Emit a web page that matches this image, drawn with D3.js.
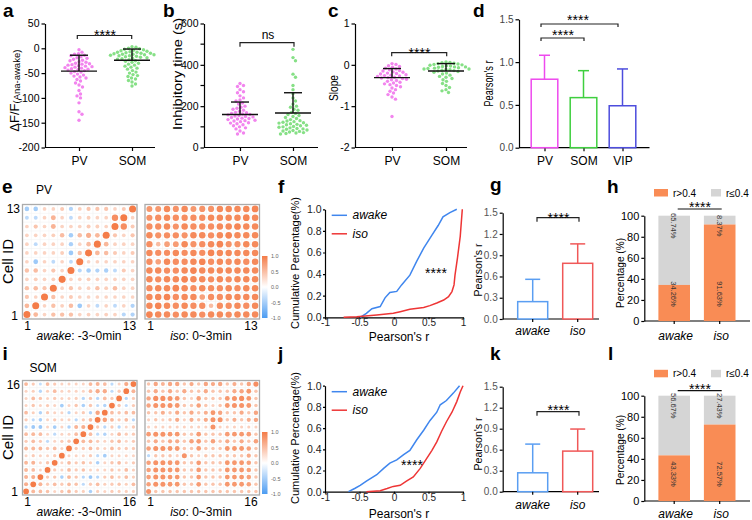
<!DOCTYPE html>
<html><head><meta charset="utf-8">
<script src="https://cdn.jsdelivr.net/npm/d3@7"></script>
<style>body{margin:0;background:#fff}</style>
</head><body>
<script>
// ================= DATA =================
const groupsAB = ["PV","SOM"];
const dffTicks = [50,0,-50,-100,-150,-200];
const dffPV = [-3,-8,-11,-12,-14,-15,-17,-19,-20,-22,-24,-25,-27,-28,-30,-31,-32,-33,-34,-35,-36,-37,-38,-39,-40,-41,-42,-43,-44,-45,-47,-48,-50,-52,-54,-56,-58,-60,-63,-66,-70,-74,-78,-85,-92,-96,-100,-110,-128,-133,-145];
const dffSOM = [3,2,0,-1,-2,-3,-4,-5,-6,-7,-8,-8,-9,-10,-10,-11,-12,-12,-13,-13,-14,-15,-15,-16,-17,-18,-19,-20,-21,-22,-23,-25,-26,-28,-30,-32,-34,-36,-38,-40,-42,-45,-48,-50,-53,-55,-57,-60,-62,-65,-68,-72,-76];
const dffMean = [-46,-24];
const dffSD = [32,22.5];

const inhTicks = [0,200,400,600];
const inhMinor = [100,300,500];
const inhPV = [310,300,295,280,270,265,250,240,230,225,215,210,200,195,190,185,180,175,170,168,165,162,160,158,155,152,150,148,145,142,140,138,135,132,130,128,125,120,118,115,110,105,100,95,90,80,70,65];
const inhSOM = [475,435,420,355,340,300,280,260,240,225,210,200,195,185,180,170,165,160,155,150,145,140,135,130,128,125,122,120,118,115,112,110,108,105,102,100,98,95,92,90,88,85,82,80,78,75,72,70,68,65];
const inhMean = [160,167];
const inhSD = [60,98];

const slopeTicks = [1,0,-1,-2];
const slopePV = [0.03,0.01,-0.02,-0.04,-0.06,-0.08,-0.1,-0.12,-0.14,-0.15,-0.17,-0.18,-0.2,-0.21,-0.22,-0.24,-0.25,-0.26,-0.27,-0.28,-0.3,-0.31,-0.32,-0.33,-0.35,-0.36,-0.38,-0.4,-0.42,-0.44,-0.46,-0.48,-0.5,-0.53,-0.56,-0.6,-0.64,-0.68,-0.72,-0.78,-0.83,-1.25];
const slopeSOM = [0.07,0.06,0.05,0.04,0.03,0.02,0.01,0.0,-0.01,-0.02,-0.03,-0.04,-0.05,-0.05,-0.06,-0.07,-0.08,-0.09,-0.1,-0.1,-0.11,-0.12,-0.13,-0.14,-0.15,-0.16,-0.18,-0.2,-0.22,-0.25,-0.28,-0.3,-0.33,-0.36,-0.4,-0.45,-0.5,-0.55,-0.6,-0.63,-0.67];
const slopeMean = [-0.31,-0.15];
const slopeSD = [0.22,0.18];

const corrGroups = ["PV","SOM","VIP"];
const corrTicks = [0,0.5,1.0,1.5];
const corrMean = [0.80,0.585,0.49];
const corrSD = [0.28,0.315,0.43];

const stateCats = ["awake","iso"];
const pearTicks = [0,0.3,0.6,0.9,1.2,1.5];
const pvPearMean = [0.245,0.786];
const pvPearSD = [0.315,0.274];
const somPearMean = [0.27,0.58];
const somPearSD = [0.41,0.315];

const pctTicks = [0,20,40,60,80,100];
const pvHigh = [34.26,91.63];
const pvLow = [65.74,8.37];
const somHigh = [43.33,72.57];
const somLow = [56.67,27.43];

const cdfTicksY = [0,0.2,0.4,0.6,0.8,1.0];
const cdfTicksX = [-1,-0.5,0,0.5,1];
const pvAwakeCdf = [[-0.49,0],[-0.4,0.037],[-0.32,0.08],[-0.2,0.1],[-0.13,0.18],[-0.06,0.23],[0.04,0.24],[0.11,0.3],[0.23,0.39],[0.33,0.52],[0.43,0.64],[0.55,0.76],[0.64,0.85],[0.71,0.93],[0.81,0.97],[0.91,1.0]];
const pvIsoCdf = [[-0.73,0],[-0.54,0.006],[-0.25,0.022],[-0.01,0.037],[0.09,0.052],[0.23,0.074],[0.43,0.09],[0.52,0.108],[0.62,0.133],[0.72,0.16],[0.79,0.191],[0.84,0.238],[0.87,0.30],[0.884,0.39],[0.92,0.55],[0.96,0.75],[0.99,1.0]];
const somAwakeCdf = [[-0.66,0],[-0.57,0.03],[-0.49,0.06],[-0.4,0.1],[-0.25,0.16],[-0.15,0.22],[-0.06,0.27],[0.04,0.3],[0.14,0.35],[0.23,0.39],[0.33,0.49],[0.43,0.58],[0.52,0.67],[0.62,0.75],[0.67,0.82],[0.76,0.86],[0.86,0.93],[0.95,1.0]];
const somIsoCdf = [[-0.4,0],[-0.2,0.01],[-0.1,0.03],[-0.01,0.05],[0.09,0.06],[0.18,0.1],[0.28,0.14],[0.38,0.22],[0.47,0.31],[0.55,0.39],[0.62,0.47],[0.69,0.57],[0.76,0.66],[0.84,0.75],[0.91,0.85],[0.96,0.94],[1.0,1.0]];

const cbarTicks = [1.0,0.5,0.0,-0.5,-1.0];

// correlation matrices: row 1 (bottom) ... row n (top)
const pvAwake = [
 [1,0.35,0.05,0.25,0.25,0.25,0.05,0.08,0.05,0.08,0.05,-0.15,-0.2],
 [0.35,1,0.05,0.25,0.08,0.3,-0.35,0.05,-0.1,0.05,-0.1,0.05,-0.2],
 [0.2,0.05,1,0.25,0.05,0.15,0.05,0.05,0.05,0.05,0.05,0.05,0.05],
 [0.25,0.3,0.2,1,0.05,0.2,0.05,0.05,0.25,0.1,0.3,0.05,0.05],
 [0.05,0.1,0.05,0.1,1,0.05,0.05,0.1,0.05,0.05,0.05,0.05,0.05],
 [0.25,0.3,0.05,0.2,0.05,1,-0.15,-0.3,-0.2,-0.25,-0.1,0.15,0.05],
 [0.05,-0.35,0.05,-0.1,0.05,-0.1,1,0.05,0.05,0.05,0.05,0.05,0.05],
 [0.05,0.05,0.05,0.05,0.1,-0.35,0.25,1,0.35,0.3,0.15,0.05,0.15],
 [0.05,-0.1,0.05,0.05,0.05,-0.25,0.05,0.3,1,0.35,0.05,0.05,0.05],
 [0.05,0.05,0.05,0.1,0.3,-0.3,0.3,0.45,0.35,1,0.2,0.05,0.2],
 [0.05,0.2,0.05,0.4,0.05,0.05,0.05,0.15,0.1,0.05,1,0.8,0.15],
 [-0.1,-0.1,0.05,0.4,0.05,-0.1,0.05,0.1,0.05,0.05,0.8,1,0.05],
 [-0.3,-0.3,0.05,0.05,0.15,-0.2,0.1,0.2,0.2,0.2,0.05,0.15,1]
];
const pvIso = [
 [0.9,0.85,0.85,0.8,0.85,0.85,0.8,0.85,0.85,0.8,0.85,0.85,0.85],
 [0.85,0.9,0.85,0.8,0.85,0.8,0.8,0.3,0.8,0.8,0.85,0.8,0.85],
 [0.85,0.85,0.9,0.8,0.85,0.85,0.6,0.8,0.8,0.85,0.85,0.85,0.85],
 [0.8,0.85,0.85,0.9,0.85,0.8,0.85,0.8,0.8,0.85,0.8,0.85,0.85],
 [0.85,0.8,0.85,0.85,0.9,0.85,0.85,0.8,0.85,0.8,0.85,0.85,0.85],
 [0.85,0.85,0.8,0.8,0.85,0.9,0.85,0.85,0.85,0.85,0.85,0.85,0.85],
 [0.8,0.6,0.85,0.8,0.8,0.85,0.9,0.8,0.85,0.8,0.85,0.8,0.85],
 [0.85,0.8,0.8,0.85,0.8,0.85,0.8,0.9,0.85,0.85,0.85,0.85,0.85],
 [0.8,0.3,0.6,0.65,0.85,0.75,0.8,0.85,0.9,0.75,0.75,0.85,0.85],
 [0.85,0.75,0.8,0.8,0.75,0.85,0.85,0.8,0.85,0.9,0.85,0.85,0.85],
 [0.8,0.8,0.85,0.75,0.85,0.8,0.8,0.8,0.85,0.85,0.9,0.85,0.85],
 [0.75,0.8,0.85,0.8,0.8,0.8,0.8,0.85,0.85,0.85,0.85,0.9,0.85],
 [0.7,0.7,0.85,0.75,0.85,0.7,0.75,0.75,0.85,0.85,0.85,0.85,0.9]
];
const somAwake = [
 [1,0.35,0.3,0.25,0.05,0.2,0.3,0.15,0.1,-0.25,0.1,0.05,0.15,0.1,0.1,0.1],
 [0.45,1,0.4,0.15,0.3,0.15,0.3,0.25,-0.1,0.15,0.3,0.1,0.15,0.2,0.1,0.3],
 [0.4,0.45,1,0.15,0.2,-0.25,0.35,0.2,-0.15,-0.35,-0.15,0.15,0.3,0.1,0.3,0.1],
 [0.35,0.3,0.05,1,0.15,0.05,0.3,0.15,0.25,0.05,0.05,0.05,0.2,0.1,0.3,0.1],
 [0.35,0.4,0.05,0.2,1,0.05,0.3,0.15,0.25,0.1,-0.25,0.05,0.2,0.3,0.05,0.15],
 [0.05,0.15,0.05,0.05,0.15,1,0.05,0.05,0.05,0.15,-0.1,-0.3,0.05,0.05,0.05,0.05],
 [0.35,0.35,0.35,0.2,0.3,0.05,1,0.15,0.15,0.3,0.15,0.05,0.3,0.15,0.15,0.15],
 [0.15,0.3,0.15,-0.1,0.05,0.15,0.2,1,0.35,0.35,0.15,0.05,0.2,0.3,0.05,0.15],
 [0.3,0.35,0.3,0.05,-0.1,0.05,0.05,0.3,1,0.3,-0.1,-0.2,0.05,0.3,0.15,0.15],
 [-0.15,-0.35,-0.35,0.05,-0.3,0.05,-0.2,0.4,0.45,1,0.15,-0.15,0.15,-0.15,0.05,0.15],
 [0.15,-0.1,-0.25,0.05,0.15,0.05,0.05,-0.15,0.15,0.3,1,0.6,0.35,0.15,0.3,-0.15],
 [0.3,0.1,-0.2,0.15,0.05,0.05,-0.15,0.05,0.15,-0.2,0.55,1,0.3,0.2,0.3,0.3],
 [0.05,0.2,0.05,0.15,0.05,-0.3,0.05,0.2,-0.25,0.2,-0.1,-0.2,1,0.2,-0.1,0.15],
 [0.05,0.3,0.2,0.05,0.15,0.05,0.05,0.1,-0.15,0.2,-0.15,0.3,0.15,1,-0.15,0.15],
 [0.05,0.1,-0.15,0.1,0.3,0.05,0.05,0.05,0.05,0.3,0.5,0.5,-0.1,0.15,1,0.4],
 [0.35,0.15,-0.05,0.3,0.15,0.05,0.05,0.05,0.05,0.35,0.4,0.3,-0.1,0.05,0.5,1]
];
const somIso = [
 [0.75,0.22,0.22,0.22,0.22,0.22,0.22,0.22,0.22,0.22,0.22,0.22,0.22,0.22,0.22,0.22],
 [0.6,0.75,0.75,0.7,0.7,0.22,0.22,0.65,0.22,0.22,0.22,0.7,0.7,0.7,0.6,0.22],
 [0.6,0.75,0.75,0.7,0.7,0.22,0.22,0.65,0.22,0.22,0.22,0.7,0.7,0.7,0.6,0.22],
 [0.6,0.75,0.75,0.7,0.7,0.22,0.22,0.65,0.22,0.22,0.22,0.7,0.7,0.7,0.6,0.22],
 [0.6,0.75,0.75,0.7,0.7,0.22,0.22,0.65,0.22,0.22,0.22,0.7,0.7,0.7,0.6,0.22],
 [-0.12,0.22,0.22,0.22,0.08,0.75,0.22,0.08,0.22,0.22,0.22,0.22,0.22,0.22,0.5,0.22],
 [0.6,0.75,0.75,0.7,0.7,0.22,0.22,0.65,0.22,0.22,0.22,0.7,0.7,0.7,0.6,0.22],
 [0.22,0.5,0.22,0.5,0.5,0.22,0.6,0.65,0.22,0.6,0.22,0.5,0.22,0.5,0.22,0.6],
 [0.65,0.75,0.75,0.7,0.7,0.22,0.22,0.65,0.22,0.22,0.22,0.65,0.7,0.7,0.65,0.22],
 [0.08,0.08,0.08,0.08,0.08,0.08,0.08,0.08,0.08,0.75,0.08,0.08,0.08,0.08,0.08,0.08],
 [0.08,0.22,0.08,0.22,0.5,0.08,0.45,0.22,0.5,0.75,0.75,0.22,0.45,0.22,0.45,0.55],
 [0.22,0.22,0.45,0.22,0.5,0.22,0.5,0.22,0.45,0.7,0.55,0.22,0.22,0.5,0.22,0.55],
 [0.55,0.75,0.75,0.75,0.7,0.22,0.22,0.6,0.22,0.08,0.22,0.7,0.75,0.75,0.7,0.22],
 [0.55,0.8,0.8,0.75,0.7,0.22,0.08,0.6,0.22,0.22,0.22,0.7,0.75,0.8,0.7,0.22],
 [0.22,0.5,0.22,0.5,0.22,0.5,0.22,0.22,0.5,0.22,0.22,0.22,0.5,0.55,0.7,0.22],
 [0.22,0.55,0.4,0.55,0.55,0.22,0.5,0.22,0.55,0.5,0.55,0.22,0.45,0.22,0.55,0.8]
];

// ================= DRAWING =================
const FONT = "'Liberation Sans', Arial, Helvetica, sans-serif";
const svg = d3.select("body").append("svg").attr("width",752).attr("height",520)
  .style("font-family",FONT);

const C = {pv:"#f285ee", som:"#86e086", pvBar:"#ee4aee", somBar:"#3fcf3f", vipBar:"#4d4ddd",
  blueLine:"#3f86ee", redLine:"#ee3535", blueBar:"#5a9ef2", redBar:"#f05858",
  orange:"#f98c55", grey:"#d5d5d5", cOr:"#f47c48", cBl:"#4c9cf2"};

function txt(x,y,s,o={}){
  const t = svg.append("text").attr("x",x).attr("y",y).text(s)
    .attr("font-size",o.size||10).attr("text-anchor",o.anchor||"start")
    .attr("fill",o.fill||"#000");
  if(o.weight) t.attr("font-weight",o.weight);
  if(o.style) t.attr("font-style",o.style);
  if(o.rot) t.attr("transform",`rotate(${o.rot},${x},${y})`);
  if(o.len) t.attr("textLength",o.len).attr("lengthAdjust","spacingAndGlyphs");
  return t;
}
function line(x1,y1,x2,y2,col="#000",w=1.2){
  svg.append("line").attr("x1",x1).attr("y1",y1).attr("x2",x2).attr("y2",y2)
    .attr("stroke",col).attr("stroke-width",w);
}
function styleAxis(sel,fs,col="#000"){
  sel.attr("font-family",FONT);
  sel.select(".domain").attr("stroke","#000").attr("stroke-width",1.2);
  sel.selectAll(".tick line").attr("stroke","#000").attr("stroke-width",1.2);
  sel.selectAll(".tick text").attr("font-size",fs).attr("fill",col);
}
function bracket(x1,x2,y,tick,col="#222"){
  const p = tick ? `M${x1},${y+tick}V${y}H${x2}V${y+tick}` : `M${x1},${y}H${x2}`;
  svg.append("path").attr("d",p).attr("fill","none").attr("stroke",col).attr("stroke-width",1.2);
}
function stars(x,vc){ txt(x,vc+8,"****",{size:14,anchor:"middle"}); }

function swarm(vals,y,cx,r){
  const d = 2*r+0.35;
  const pts = vals.map(v=>({y:y(v)})).sort((a,b)=>a.y-b.y);
  const placed=[];
  for(const p of pts){
    let k=0;
    while(true){
      const c = k===0?0:(k%2?1:-1)*Math.ceil(k/2)*0.5;
      if(placed.every(q=>(q.x-c)**2+(q.y-p.y)**2>=d*d)){p.x=c;break;}
      k++;
    }
    placed.push(p);
  }
  return placed.map(p=>({x:cx+p.x,y:p.y}));
}

// ---- scatter panels a,b,c ----
function scatterPanel(o){
  const y = d3.scaleLinear().domain(o.domain).range([147.5,23.5]);
  const x = d3.scalePoint().domain(groupsAB).range(o.cx);
  const ax = svg.append("g").attr("transform",`translate(${o.ax},0)`)
    .call(d3.axisLeft(y).tickValues(o.ticks).tickSize(3.5).tickPadding(2).tickSizeOuter(0).tickFormat(o.fmt));
  styleAxis(ax,10.5);
  if(o.minor){
    o.minor.forEach(v=>line(o.ax-3.5,y(v),o.ax,y(v)));
  }
  line(o.ax,147.5,o.axEnd,147.5);
  const xb = svg.append("g").attr("transform","translate(0,147.5)")
    .call(d3.axisBottom(x).tickSize(3.5).tickPadding(3).tickSizeOuter(0));
  styleAxis(xb,12);
  xb.select(".domain").remove();
  xb.selectAll(".tick text").attr("dy","0.9em");
  [o.pv,o.som].forEach((vals,i)=>{
    const col = i===0?C.pv:C.som;
    svg.append("g").selectAll("circle").data(swarm(vals,y,x(groupsAB[i]),1.7)).join("circle")
      .attr("cx",d=>d.x).attr("cy",d=>d.y).attr("r",1.7).attr("fill",col);
  });
  groupsAB.forEach((g,i)=>{
    const cx=x(g), m=y(o.mean[i]), t=y(o.mean[i]+o.sd[i]);
    line(cx-18,m,cx+18,m,"#111",1.4);
    line(cx,m,cx,t,"#111",1.4);
    line(cx-9,t,cx+9,t,"#111",1.4);
  });
}
scatterPanel({ax:45,axEnd:155,cx:[79,132],domain:[-200,50],ticks:dffTicks,fmt:d=>String(d),
  pv:dffPV,som:dffSOM,mean:dffMean,sd:dffSD});
bracket(77.3,131.7,35.5,3.5); stars(105,31.5);
txt(19,131.7,"",{rot:-90}).call(t=>{
  t.append("tspan").text("ΔF/F").attr("font-size",13);
  t.append("tspan").text("(Ana-awake)").attr("font-size",9.5).attr("dy",1.5);
});

scatterPanel({ax:204,axEnd:318,cx:[240,293],domain:[0,600],ticks:inhTicks,minor:inhMinor,fmt:d=>String(d),
  pv:inhPV,som:inhSOM,mean:inhMean,sd:inhSD});
bracket(240,294,42.7,4); txt(268,39.3,"ns",{size:12,anchor:"middle"});
txt(181.5,74,"Inhibitory time (s)",{size:13.5,anchor:"middle",rot:-90,len:112});

scatterPanel({ax:355,axEnd:467,cx:[392,446],domain:[-2,1],ticks:slopeTicks,fmt:d=>String(d),
  pv:slopePV,som:slopeSOM,mean:slopeMean,sd:slopeSD});
bracket(391.7,446.7,52.7,3.5); stars(419.5,49.5);
txt(338,88,"Slope",{size:12.5,anchor:"middle",rot:-90,len:26});

// ---- panel d ----
(function(){
  const y = d3.scaleLinear().domain([0,1.5]).range([147.7,19.3]);
  const x = d3.scalePoint().domain(corrGroups).range([544.5,622.5]);
  const ax = svg.append("g").attr("transform","translate(519,0)")
    .call(d3.axisLeft(y).tickValues(corrTicks).tickSize(3.5).tickPadding(2).tickSizeOuter(0).tickFormat(d=>d.toFixed(1)));
  styleAxis(ax,10,"#444");
  line(519,147.7,649.5,147.7);
  const xb = svg.append("g").attr("transform","translate(0,147.7)")
    .call(d3.axisBottom(x).tickSize(3.5).tickPadding(3).tickSizeOuter(0));
  styleAxis(xb,12); xb.select(".domain").remove(); xb.selectAll(".tick text").attr("dy","0.9em");
  const cols=[C.pvBar,C.somBar,C.vipBar];
  corrGroups.forEach((g,i)=>{
    const cx=x(g), top=y(corrMean[i]), cap=y(corrMean[i]+corrSD[i]);
    svg.append("rect").attr("x",cx-13.3).attr("y",top).attr("width",26.6).attr("height",147.7-top)
      .attr("fill","#fff").attr("stroke",cols[i]).attr("stroke-width",1.5);
    line(cx,top,cx,cap,cols[i],1.5);
    line(cx-5.5,cap,cx+5.5,cap,cols[i],1.5);
  });
  bracket(541,618,24,3); stars(578,17.3);
  bracket(541,584,38,3); stars(563,31.5);
  txt(493,83.5,"Pearson's r",{size:12,anchor:"middle",rot:-90,len:46});
})();

// ---- correlation matrices ----
function cellColor(v){
  const t = 0.3+0.7*Math.min(1,Math.abs(v));
  return d3.interpolateRgb("#ffffff", v>=0?C.cOr:C.cBl)(t);
}
function corrMatrix(M,x0,y0,S){
  const n=M.length;
  const bx=d3.scaleBand().domain(d3.range(n)).range([x0,x0+S]);
  const by=d3.scaleBand().domain(d3.range(n)).range([y0+S,y0]);
  const half=bx.bandwidth()/2;
  const g=svg.append("g");
  d3.range(n+1).forEach(i=>{
    const p=x0+i*bx.bandwidth(), q=y0+i*by.bandwidth();
    g.append("line").attr("x1",p).attr("x2",p).attr("y1",y0).attr("y2",y0+S).attr("stroke","#f1f1f1").attr("stroke-width",0.6);
    g.append("line").attr("y1",q).attr("y2",q).attr("x1",x0).attr("x2",x0+S).attr("stroke","#f1f1f1").attr("stroke-width",0.6);
  });
  const cells=[];
  M.forEach((row,r)=>row.forEach((v,c)=>cells.push({r,c,v})));
  g.selectAll("circle").data(cells).join("circle")
    .attr("cx",d=>bx(d.c)+half).attr("cy",d=>by(d.r)+half)
    .attr("r",d=>half*(0.4+0.4*Math.min(1,Math.abs(d.v))))
    .attr("fill",d=>cellColor(d.v));
  g.append("rect").attr("x",x0).attr("y",y0).attr("width",S).attr("height",S)
    .attr("fill","none").attr("stroke","#ababab").attr("stroke-width",1.3);
}
const defs=svg.append("defs");
const grad=defs.append("linearGradient").attr("id","cbar").attr("x1",0).attr("x2",0).attr("y1",0).attr("y2",1);
grad.append("stop").attr("offset","0%").attr("stop-color",C.cOr);
grad.append("stop").attr("offset","50%").attr("stop-color","#ffffff");
grad.append("stop").attr("offset","100%").attr("stop-color",C.cBl);
function colorbar(y0,y1){
  svg.append("rect").attr("x",262).attr("y",y0).attr("width",5.5).attr("height",y1-y0).attr("fill","url(#cbar)");
  const s=d3.scaleLinear().domain([1,-1]).range([y0,y1]);
  cbarTicks.forEach(v=>txt(271,s(v)+2,v.toFixed(1),{size:5.5,fill:"#666"}));
}
function matrixBlock(Ma,Mi,y0,n,title,ty){
  corrMatrix(Ma,22.5,y0,114.5);
  corrMatrix(Mi,145,y0,114.5);
  txt(20,y0+8.5,String(n),{size:12,anchor:"end"});
  txt(18,y0+115.5,"1",{size:12,anchor:"end"});
  txt(13,y0+57,"Cell ID",{size:14,anchor:"middle",rot:-90,len:45});
  txt(27.5,y0+125.5,"1",{size:12,anchor:"middle"});
  txt(129.5,y0+125.5,String(n),{size:12,anchor:"middle"});
  txt(150.5,y0+125.5,"1",{size:12,anchor:"middle"});
  txt(251,y0+125.5,String(n),{size:12,anchor:"middle"});
  const t1=txt(79,y0+135.5,"",{size:12,anchor:"middle"});
  t1.append("tspan").text("awake").attr("font-style","italic"); t1.append("tspan").text(": -3~0min");
  const t2=txt(201,y0+135.5,"",{size:12,anchor:"middle"});
  t2.append("tspan").text("iso").attr("font-style","italic"); t2.append("tspan").text(": 0~3min");
  txt(title==="PV"?36:29.5,ty,title,{size:12});
  colorbar(y0+51.5,y0+113.5);
}
matrixBlock(pvAwake,pvIso,204.5,13,"PV",194.3);
matrixBlock(somAwake,somIso,380.5,16,"SOM",372.3);

// ---- CDF panels f, j ----
function cdfPanel(awake,iso,yBot,yTop,starX,starY,ylabY,xlabY){
  const x=d3.scaleLinear().domain([-1,1]).range([325,463]);
  const y=d3.scaleLinear().domain([0,1]).range([yBot,yTop]);
  const ay=svg.append("g").attr("transform","translate(325,0)")
    .call(d3.axisLeft(y).tickValues(cdfTicksY).tickSize(2).tickPadding(1.5).tickSizeOuter(0).tickFormat(d=>d.toFixed(1)));
  styleAxis(ay,10.5,"#222");
  const axb=svg.append("g").attr("transform",`translate(0,${yBot})`)
    .call(d3.axisBottom(x).tickValues(cdfTicksX).tickSize(2).tickPadding(0).tickSizeOuter(0).tickFormat(d=>String(d)));
  styleAxis(axb,10,"#222");
  const ln=d3.line().x(d=>x(d[0])).y(d=>y(d[1]));
  svg.append("path").attr("d",ln(awake)).attr("fill","none").attr("stroke",C.blueLine).attr("stroke-width",1.5);
  svg.append("path").attr("d",ln(iso)).attr("fill","none").attr("stroke",C.redLine).attr("stroke-width",1.5);
  line(331.7,yTop+6,347,yTop+6,C.blueLine,1.5);
  line(331.7,yTop+24.5,347,yTop+24.5,C.redLine,1.5);
  txt(352.5,yTop+10,"awake",{size:12,style:"italic"});
  txt(352.5,yTop+28.5,"iso",{size:12,style:"italic"});
  stars(starX,starY);
  txt(299,ylabY,"Cumulative Percentage(%)",{size:11,anchor:"middle",rot:-90,len:132});
  txt(399,xlabY,"Pearson's r",{size:12,anchor:"middle"});
}
cdfPanel(pvAwakeCdf,pvIsoCdf,317.3,209.3,436,270,263,340.5);
cdfPanel(somAwakeCdf,somIsoCdf,491.7,385.7,412,462,438,517.5);

// ---- bar panels g, k ----
function pearPanel(mean,sd,yBot,yTop,brY,stY,labY,ylabY){
  const y=d3.scaleLinear().domain([0,1.5]).range([yBot,yTop]);
  const x=d3.scalePoint().domain(stateCats).range([532.7,577.7]);
  const ay=svg.append("g").attr("transform","translate(502.7,0)")
    .call(d3.axisLeft(y).tickValues(pearTicks).tickSize(3).tickPadding(2).tickSizeOuter(0).tickFormat(d=>d.toFixed(1)));
  styleAxis(ay,10,"#555");
  line(502.7,yBot,599,yBot);
  stateCats.forEach((c,i)=>{
    const cx=x(c), col=i===0?C.blueBar:C.redBar, top=y(mean[i]), cap=y(mean[i]+sd[i]);
    svg.append("rect").attr("x",cx-15).attr("y",top).attr("width",30).attr("height",yBot-top)
      .attr("fill","#fff").attr("stroke",col).attr("stroke-width",1.5);
    line(cx,top,cx,cap,col,1.5);
    line(cx-7.5,cap,cx+7.5,cap,col,1.5);
    line(cx,yBot,cx,yBot+3);
    txt(cx,labY,c,{size:12,style:"italic",anchor:"middle"});
  });
  bracket(537,579,brY,4); stars(558.5,stY);
  txt(481.5,ylabY,"Pearson's r",{size:11.5,anchor:"middle",rot:-90,len:53});
}
pearPanel(pvPearMean,pvPearSD,319,212.7,217.7,214.5,334.5,270);
pearPanel(somPearMean,somPearSD,491.7,386.7,411.7,406.5,508.5,444);

// ---- stacked panels h, l ----
function pctPanel(high,low,yBot,yTop,legY,brY,stY,labY,ylabY){
  const y=d3.scaleLinear().domain([0,100]).range([yBot,yTop]);
  const x=d3.scalePoint().domain(stateCats).range([674.2,719.7]);
  const ay=svg.append("g").attr("transform","translate(644.3,0)")
    .call(d3.axisLeft(y).tickValues(pctTicks).tickSize(3).tickPadding(2).tickSizeOuter(0).tickFormat(d=>String(d)));
  styleAxis(ay,11);
  line(644.3,yBot,750,yBot);
  stateCats.forEach((c,i)=>{
    const cx=x(c);
    svg.append("rect").attr("x",cx-15.8).attr("y",y(100)).attr("width",31.6).attr("height",y(high[i])-y(100)).attr("fill",C.grey);
    svg.append("rect").attr("x",cx-15.8).attr("y",y(high[i])).attr("width",31.6).attr("height",yBot-y(high[i])).attr("fill",C.orange);
    line(cx,yBot,cx,yBot+3);
    txt(cx-2.8,y(100)+10,low[i].toFixed(2)+"%",{size:7.5,anchor:"middle",rot:90,fill:"#333"});
    txt(cx-2.8,yBot-27,high[i].toFixed(2)+"%",{size:7.5,anchor:"middle",rot:90,fill:"#333"});
    txt(cx+1.5,labY,c,{size:12,style:"italic",anchor:"middle"});
  });
  svg.append("rect").attr("x",654).attr("y",legY-7.5).attr("width",14).attr("height",7.5).attr("fill",C.orange);
  txt(673,legY,"r>0.4",{size:10});
  svg.append("rect").attr("x",711).attr("y",legY-7.5).attr("width",10).attr("height",7.5).attr("fill",C.grey);
  txt(726,legY,"r≤0.4",{size:10});
  bracket(677.7,721.7,brY,0,"#111"); stars(700,stY);
  txt(623.5,ylabY,"Percentage (%)",{size:11.5,anchor:"middle",rot:-90,len:70});
}
pctPanel(pvHigh,pvLow,321,215.7,196.5,209,204.3,340,273);
pctPanel(somHigh,somLow,501,395.7,377.3,390.7,386,518,450);

// ---- panel letters ----
[["a",3,16.7],["b",163,16.7],["c",328,16.7],["d",473,16.7],
 ["e",2,193.3],["f",278,193.3],["g",490,191],["h",607,193.3],
 ["i",2.5,360],["j",278,360],["k",490,360],["l",608,360]]
 .forEach(([s,x,y])=>txt(x,y,s,{size:19,weight:"bold"}));
</script>
</body></html>
